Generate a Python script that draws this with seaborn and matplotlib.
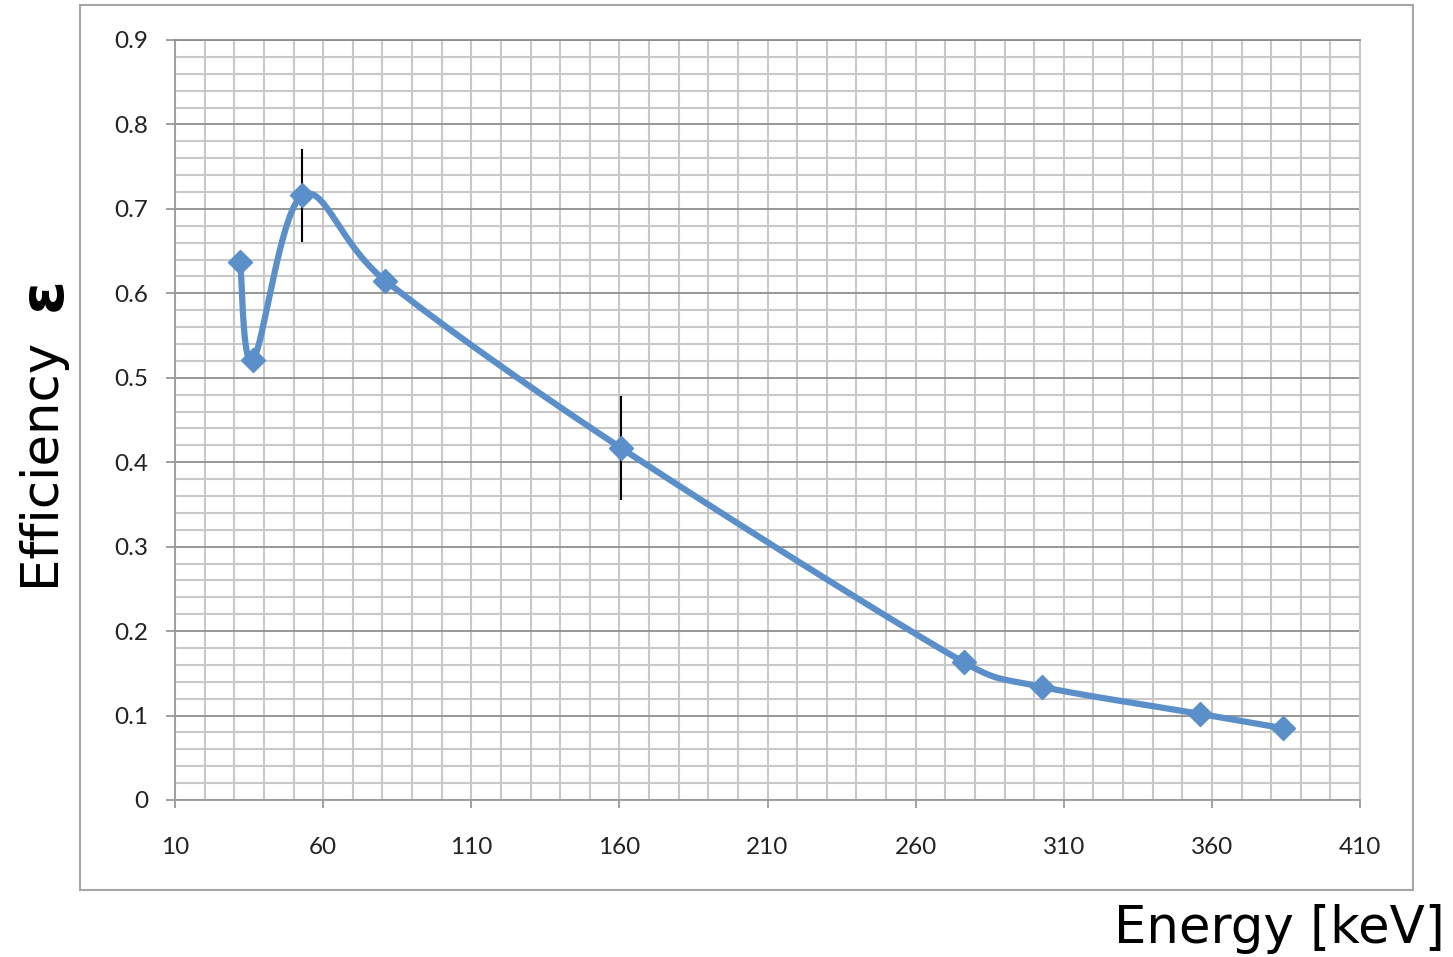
import numpy as np
import matplotlib
matplotlib.use("Agg")
import matplotlib.pyplot as plt
import matplotlib.ticker as mticker
from matplotlib.patches import Rectangle
import seaborn as sns

# values
energy = [32, 36.3, 53, 81, 160.5, 276.3, 302.7, 356, 384]
efficiency = [0.637, 0.521, 0.716, 0.615, 0.417, 0.163, 0.134, 0.102, 0.085]
err_energy = [53, 160.5]
err_eff = [0.716, 0.417]
err_size = [0.055, 0.062]

x_ticks = [10, 60, 110, 160, 210, 260, 310, 360, 410]
y_ticks = [0, 0.1, 0.2, 0.3, 0.4, 0.5, 0.6, 0.7, 0.8, 0.9]
y_tick_labels = ["0", "0.1", "0.2", "0.3", "0.4", "0.5", "0.6", "0.7", "0.8", "0.9"]

BLUE = "#5b8fc9"
X_PX, Y_PX = 1185 / 400, 760 / 0.9  # pixels per data unit, used for smoothing


def smooth_line(xs, ys, n=40):
    # Excel-like smoothed line: Catmull-Rom handles (worked in screen units),
    # clamped to half of the segment chord so the curve doesn't overshoot
    p = np.column_stack([np.asarray(xs) * X_PX, np.asarray(ys) * Y_PX])
    m = len(p)
    tang = [(p[min(i + 1, m - 1)] - p[max(i - 1, 0)]) / 6 for i in range(m)]
    t = np.linspace(0, 1, n)[:, None]
    out = []
    for i in range(m - 1):
        p1, p2 = p[i], p[i + 1]
        chord = np.linalg.norm(p2 - p1)
        h1, h2 = tang[i].copy(), tang[i + 1].copy()
        for h in (h1, h2):
            ln = np.linalg.norm(h)
            if ln > chord * 0.5:
                h *= chord * 0.5 / ln
        c1 = p1 + h1
        c2 = p2 - h2
        seg = ((1 - t) ** 3) * p1 + 3 * ((1 - t) ** 2) * t * c1 + 3 * (1 - t) * t ** 2 * c2 + t ** 3 * p2
        out.append(seg if i == 0 else seg[1:])
    out = np.vstack(out)
    return out[:, 0] / X_PX, out[:, 1] / Y_PX


sns.set_theme(style="white")
fig = plt.figure(figsize=(14.53, 9.57), dpi=100)
ax = fig.add_axes([175 / 1453, 1 - 800 / 957, 1185 / 1453, 760 / 957])

# outer chart frame
fig.patches.append(Rectangle((80 / 1453, 1 - 890 / 957), 1333 / 1453, 885 / 957,
                             transform=fig.transFigure, fill=False,
                             edgecolor="#a6a6a6", linewidth=1.5))

sx, sy = smooth_line(energy, efficiency)
sns.lineplot(x=sx, y=sy, sort=False, estimator=None, ax=ax, color=BLUE,
             linewidth=4.5, zorder=3)
ax.errorbar(err_energy, err_eff, yerr=err_size, fmt="none", ecolor="black",
            elinewidth=1.5, capsize=0, zorder=4)
sns.scatterplot(x=energy, y=efficiency, ax=ax, marker="D", s=150, color=BLUE,
                edgecolor=BLUE, linewidth=1, zorder=5)

ax.set_xlim(10, 410)
ax.set_ylim(0, 0.9)
ax.set_xticks(x_ticks)
ax.set_yticks(y_ticks)
ax.set_yticklabels(y_tick_labels)
ax.xaxis.set_minor_locator(mticker.MultipleLocator(10))
ax.yaxis.set_minor_locator(mticker.MultipleLocator(0.02))

ax.grid(axis="x", which="both", color="#c8c8c8", linewidth=1.5, zorder=0)
ax.grid(axis="y", which="minor", color="#c8c8c8", linewidth=1.5, zorder=0)
ax.grid(axis="y", which="major", color="#8f8f8f", linewidth=1.3, zorder=1)
ax.set_axisbelow(True)
for side in ["left", "bottom"]:
    ax.spines[side].set_color("#9a9a9a")
    ax.spines[side].set_linewidth(1.3)
ax.spines["right"].set_color("#c8c8c8")
ax.spines["right"].set_linewidth(1.5)
ax.spines["top"].set_color("#8f8f8f")
ax.spines["top"].set_linewidth(1.3)

ax.tick_params(axis="x", which="major", bottom=True, length=6, width=1.3,
               color="#9a9a9a", pad=21, labelsize=17.5, labelcolor="#222222")
ax.tick_params(axis="y", which="major", left=True, length=6.5, width=1.3,
               color="#9a9a9a", pad=13, labelsize=17.5, labelcolor="#222222")
ax.tick_params(which="minor", length=0)
for lab in ax.get_xticklabels() + ax.get_yticklabels():
    lab.set_fontfamily("Lato")

ax.set_xlabel("")
ax.set_ylabel("")

fig.text(1445 / 1453, 1 - 943 / 957, "Energy [keV]", ha="right", va="baseline",
         fontsize=37, family=["DejaVu Sans"], color="black")
fig.text(40 / 1453, 1 - 462 / 957, "Efficiency", ha="center", va="center",
         rotation=90, fontsize=37, family=["DejaVu Sans"], color="black")
fig.text(44 / 1453, 1 - 294 / 957, "ε", ha="center", va="center",
         rotation=90, fontsize=44, fontweight="bold",
         family=["DejaVu Sans"], color="black")

fig.savefig("out.png", dpi=100)
